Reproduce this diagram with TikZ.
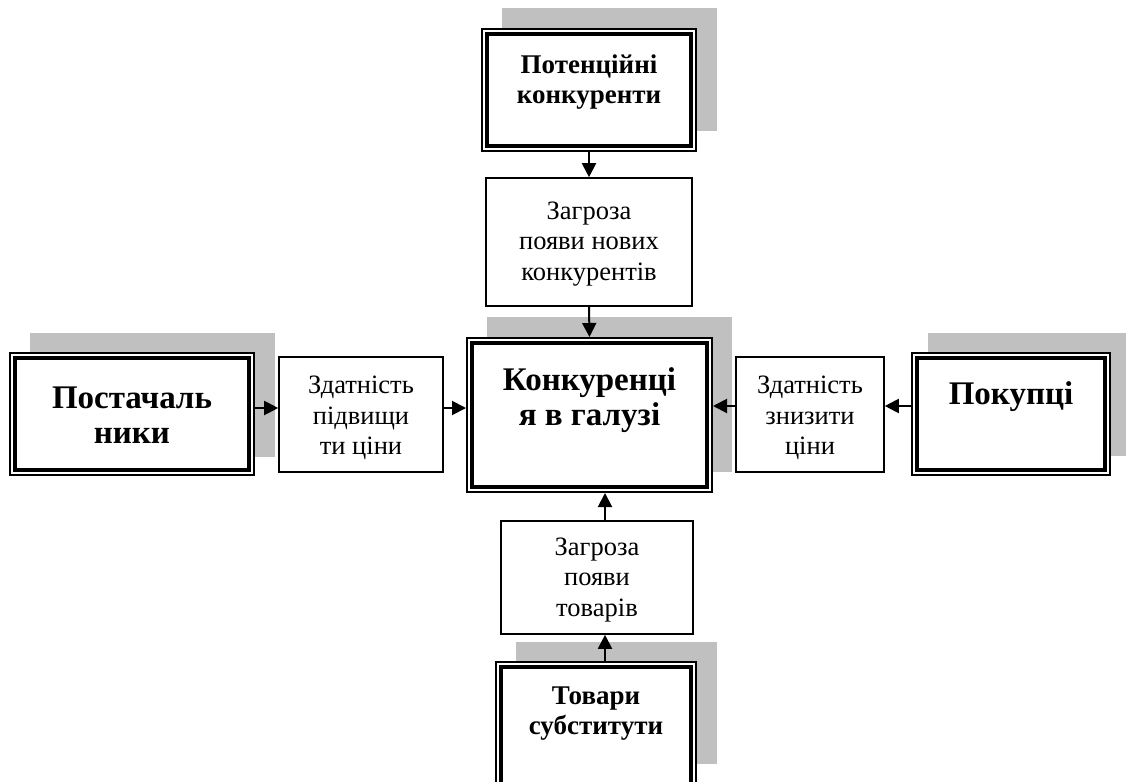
\documentclass[tikz,border=0pt]{standalone}
\usepackage{fontspec}
\setmainfont{Liberation Serif}
\usetikzlibrary{arrows.meta}
\definecolor{shadowgray}{HTML}{C0C0C0}
\tikzset{
  dbox/.style={draw=black, line width=2pt, fill=white, inner sep=0pt, rectangle},
  sbox/.style={draw=black, line width=1.6pt, fill=white, inner sep=0pt, rectangle},
  innerline/.style={draw=black, line width=3.2pt},
  rtext/.style={align=center, font=\fontsize{26.5}{30.5}\selectfont, inner sep=0pt},
  btext/.style={align=center, font=\bfseries\fontsize{27}{30}\selectfont, inner sep=0pt},
  bbtext/.style={align=center, font=\bfseries\fontsize{33}{35}\selectfont, inner sep=0pt},
  arr/.style={line width=2pt, -{Triangle[length=14pt,width=14pt]}}
}
\newcommand{\innerrect}[1]{\draw[innerline] ([shift={(6,6)}]#1.north west) rectangle ([shift={(-6,-6)}]#1.south east);}
\begin{document}
\begin{tikzpicture}[x=1pt,y=-1pt]
\useasboundingbox (0,0) rectangle (1126,781);
\clip (0,0) rectangle (1126,781);
% shadows
\fill[shadowgray] (502,8) rectangle (717,131);
\fill[shadowgray] (487,317) rectangle (732,472);
\fill[shadowgray] (30,333) rectangle (275,457);
\fill[shadowgray] (928,333) rectangle (1130,456);
\fill[shadowgray] (516,642) rectangle (717,764);
% boxes
\node[dbox, minimum width=214, minimum height=122] (pk) at (589,90) {};
\innerrect{pk}
\node[btext] (pkt) at (589,82) {Потенційні\\конкуренти};

\node[sbox, minimum width=206, minimum height=128] (z1) at (589,242) {};
\node[rtext] (z1t) at (589,244) {Загроза\\появи нових\\конкурентів};

\node[dbox, minimum width=245, minimum height=154] (kc) at (589.5,415) {};
\innerrect{kc}
\node[bbtext] (kct) at (589.5,400) {Конкуренці\\я в галузі};

\node[dbox, minimum width=244, minimum height=122] (ps) at (132,414) {};
\innerrect{ps}
\node[bbtext] (pst) at (132,415) {Постачаль\\ники};

\node[sbox, minimum width=164, minimum height=115] (zl) at (361,414.5) {};
\node[rtext] (zlt) at (361,418) {Здатність\\підвищи\\ти ціни};

\node[sbox, minimum width=148, minimum height=115] (zr) at (810,414.5) {};
\node[rtext] (zrt) at (810,418) {Здатність\\знизити\\ціни};

\node[dbox, minimum width=198, minimum height=122] (pc) at (1011,414) {};
\innerrect{pc}
\node[bbtext] (pct) at (1011,397) {Покупці};

\node[sbox, minimum width=192, minimum height=113] (zb) at (597,577.5) {};
\node[rtext] (zbt) at (597,580) {Загроза\\появи\\товарів};

\node[dbox, minimum width=200, minimum height=140] (ts) at (596,732) {};
\innerrect{ts}
\node[btext] (tst) at (596,714) {Товари\\субститути};

% connectors
\coordinate (hl) at (0,408);
\coordinate (hr) at (0,406);
\coordinate (vb) at (605,0);
\draw[arr] (pk.south) -- (z1.north);
\draw[arr] (z1.south) -- (kc.north);
\draw[arr] (ps.east |- hl) -- (zl.west |- hl);
\draw[arr] (zl.east |- hl) -- (kc.west |- hl);
\draw[arr] (pc.west |- hr) -- (zr.east |- hr);
\draw[arr] (zr.west |- hr) -- (kc.east |- hr);
\draw[arr] (zb.north -| vb) -- (kc.south -| vb);
\draw[arr] (ts.north -| vb) -- (zb.south -| vb);
\end{tikzpicture}
\end{document}
